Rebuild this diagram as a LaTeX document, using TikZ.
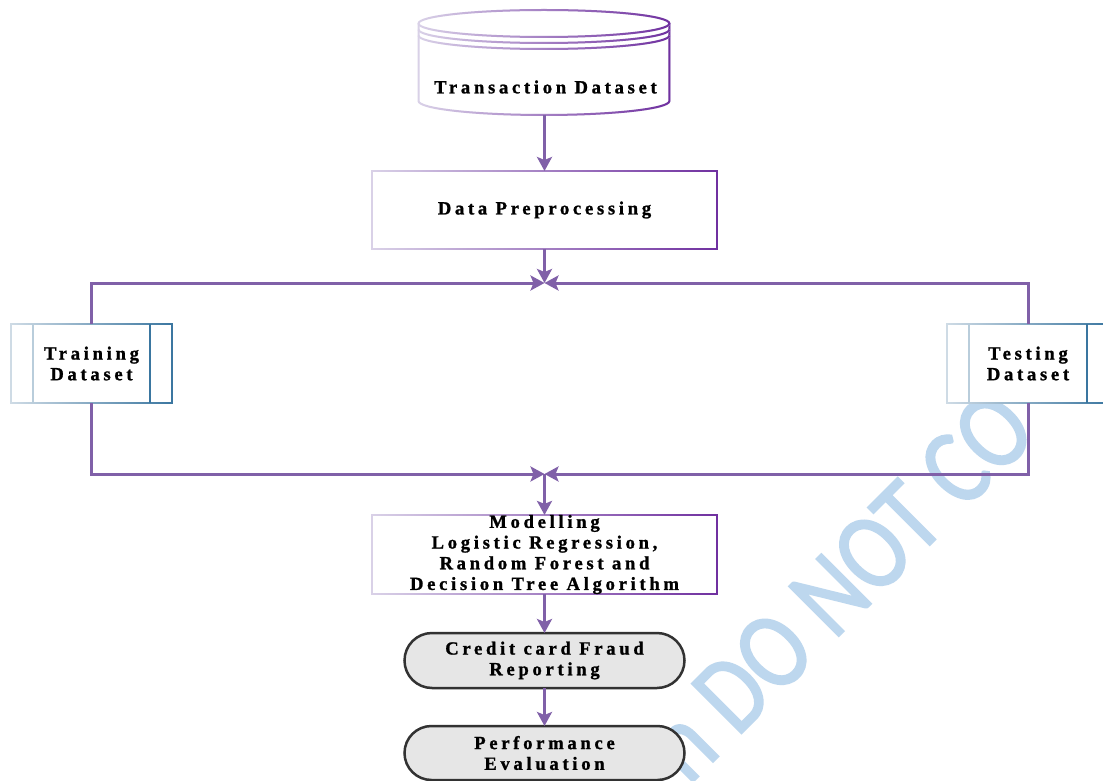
\documentclass[tikz,border=0pt]{standalone}
\usepackage{fontspec}
\setmainfont{Liberation Serif}
\newfontfamily\lblfont{Liberation Serif Bold}[LetterSpace=20, FakeBold=1.2]
\newfontfamily\wmfont{Carlito}[FakeStretch=0.83, FakeBold=1.5]
\newcommand\boxlabelfont{\lblfont\fontsize{18.6pt}{20.7pt}\selectfont}
\usetikzlibrary{arrows.meta,shapes.misc,fadings}

\definecolor{lav}{RGB}{218,210,232}
\definecolor{dpur}{RGB}{112,48,160}
\definecolor{arrpur}{RGB}{128,96,168}
\definecolor{lblue}{RGB}{208,220,230}
\definecolor{dteal}{RGB}{58,118,160}
\definecolor{wmblue}{RGB}{189,215,238}
\definecolor{pillfill}{RGB}{230,230,230}
\definecolor{pilledge}{RGB}{50,50,50}

\tikzfading[name=fadeleft, left color=transparent!100, right color=transparent!0]

\tikzset{
  conn/.style={draw=arrpur, line width=3pt},
  arr/.style={conn, -{Stealth[length=14pt,width=15pt,inset=3pt]}},
  gradstroke/.style={draw=lav, line width=2.5pt,
    postaction={draw=dpur, line width=2.5pt, path fading=fadeleft}},
  purbox/.style={rectangle, fill=white, gradstroke, outer sep=0pt, inner sep=0pt,
    minimum width=345pt, font=\boxlabelfont, align=center},
  dsbox/.style={rectangle, fill=white, draw=lblue, line width=2.5pt,
    postaction={draw=dteal, line width=2.5pt, path fading=fadeleft},
    outer sep=0pt, inner sep=0pt, minimum height=79pt,
    font=\boxlabelfont, align=center},
  pill/.style={rounded rectangle, fill=pillfill, draw=pilledge, line width=2.5pt,
    outer sep=0pt, inner sep=0pt, minimum width=280pt,
    font=\boxlabelfont, align=center},
  cylstroke/.style={draw=lav, line width=2pt,
    postaction={draw=dpur, line width=2pt, path fading=fadeleft}},
}

\begin{document}
\begin{tikzpicture}[x=1pt,y=-1pt]
\useasboundingbox (0,0) rectangle (1103,781);
\fill[white] (0,0) rectangle (1103,781);

% watermark behind the chart
\node[anchor=base west, rotate=45, inner sep=0pt, text=wmblue,
      font=\wmfont\fontsize{110pt}{110pt}\selectfont] (wm) at (688.5,786.5) {n DO NOT CO};

% database cylinder
\path[fill=white] (418.5,23.5) -- (418.5,101)
  arc[start angle=180,end angle=360,x radius=125.5pt,y radius=14pt]
  -- (669.5,23.5)
  arc[start angle=0,end angle=180,x radius=125.5pt,y radius=13.5pt] -- cycle;
\draw[cylstroke] (418.5,23.5) -- (418.5,101)
  arc[start angle=180,end angle=360,x radius=125.5pt,y radius=14pt] -- (669.5,23.5);
\draw[cylstroke] (544,23.5) ellipse[x radius=125.5pt,y radius=13.5pt];
\draw[cylstroke] (418.5,29.5) arc[start angle=180,end angle=360,x radius=125.5pt,y radius=13.5pt];
\draw[cylstroke] (418.5,35.5) arc[start angle=180,end angle=360,x radius=125.5pt,y radius=13.5pt];
\node[minimum width=251pt, minimum height=105pt, inner sep=0pt, outer sep=0pt] (cyl) at (544,62.5) {};
\node[font=\boxlabelfont, inner sep=0pt] (cyltext) at (545.5,87) {Transaction Dataset};

% process boxes
\node[purbox, minimum height=78pt] (dp) at (544.5,210) {Data Preprocessing};
\node[dsbox, minimum width=161pt] (tr) at (91.5,363.5) {Training\\Dataset};
\node[dsbox, minimum width=162pt] (te) at (1028,363.5) {Testing\\Dataset};
\node[purbox, minimum height=79pt] (mod) at (544.5,554.5)
  {Modelling\\Logistic Regression,\\Random Forest and\\Decision Tree Algorithm};
\node[pill, minimum height=55pt] (cr) at (544.5,660.5) {Credit card Fraud\\Reporting};
\node[pill, minimum height=54pt] (pe) at (544.5,753) {Performance\\Evaluation};

% inner bars of the dataset boxes
\draw[line width=2.5pt, draw=lblue!85!dteal] ([xshift=22pt]tr.north west) -- ([xshift=22pt]tr.south west);
\draw[line width=2.5pt, draw=dteal] ([xshift=-22pt]tr.north east) -- ([xshift=-22pt]tr.south east);
\draw[line width=2.5pt, draw=lblue!85!dteal] ([xshift=22pt]te.north west) -- ([xshift=22pt]te.south west);
\draw[line width=2.5pt, draw=dteal] ([xshift=-22pt]te.north east) -- ([xshift=-22pt]te.south east);

% junction points
\coordinate (j1) at (544.5,283);
\coordinate (j2) at (544.5,474);

% connectors
\draw[arr] (cyl.south -| dp.north) -- (dp.north);
\draw[arr] (dp.south) -- (j1);
\draw[arr] (tr.north) |- (j1);
\draw[arr] (te.north) |- (j1);
\draw[arr] (tr.south) |- (j2);
\draw[arr] (te.south) |- (j2);
\draw[arr] (j2) -- (mod.north);
\draw[arr] (mod.south) -- (cr.north);
\draw[arr] (cr.south) -- (pe.north);
\end{tikzpicture}
\end{document}
